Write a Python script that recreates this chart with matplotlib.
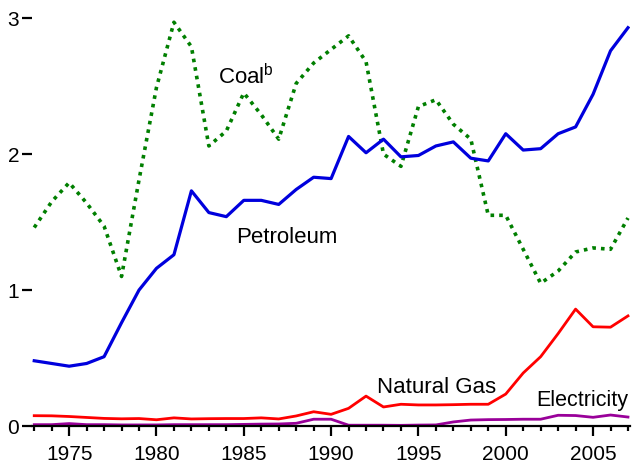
import matplotlib
matplotlib.use("Agg")
import matplotlib.pyplot as plt
from matplotlib.ticker import MultipleLocator

plt.rcParams["font.family"] = "Liberation Sans"
plt.rcParams["mathtext.fontset"] = "custom"
plt.rcParams["mathtext.rm"] = "Liberation Sans"

years = list(range(1973, 2008))

coal = [1.46, 1.65, 1.79, 1.64, 1.47, 1.10, 1.81, 2.49, 2.97, 2.79,
        2.06, 2.17, 2.45, 2.29, 2.11, 2.52, 2.67, 2.77, 2.87, 2.68,
        2.00, 1.91, 2.35, 2.40, 2.22, 2.11, 1.55, 1.55, 1.30, 1.05,
        1.14, 1.28, 1.31, 1.30, 1.53]

petroleum = [0.48, 0.46, 0.44, 0.46, 0.51, 0.76, 1.00, 1.16, 1.26, 1.73,
             1.57, 1.54, 1.66, 1.66, 1.63, 1.74, 1.83, 1.82, 2.13, 2.01,
             2.11, 1.98, 1.99, 2.06, 2.09, 1.97, 1.95, 2.15, 2.03, 2.04,
             2.15, 2.20, 2.44, 2.76, 2.93]

natural_gas = [0.076, 0.075, 0.07, 0.063, 0.056, 0.053, 0.055, 0.046, 0.06, 0.052,
               0.054, 0.055, 0.055, 0.06, 0.052, 0.074, 0.105, 0.086, 0.13, 0.22,
               0.14, 0.16, 0.155, 0.155, 0.157, 0.16, 0.16, 0.235, 0.39, 0.51,
               0.68, 0.86, 0.73, 0.727, 0.81]

electricity = [0.01, 0.01, 0.018, 0.01, 0.01, 0.008, 0.008, 0.008, 0.01, 0.01,
               0.01, 0.01, 0.012, 0.014, 0.015, 0.02, 0.05, 0.05, 0.006, 0.006,
               0.006, 0.005, 0.007, 0.008, 0.03, 0.044, 0.047, 0.048, 0.05, 0.05,
               0.079, 0.077, 0.064, 0.081, 0.066]

fig = plt.figure(figsize=(6.32, 4.66), dpi=100)
ax = fig.add_axes([0.0514, 0.0858, 0.945, 0.8927])

ax.plot(years, coal, color="#007f00", lw=2.6, linestyle=(0, (1, 1.4)))
ax.plot(years, petroleum, color="#0000dd", lw=2.3)
ax.plot(years, natural_gas, color="#ff0000", lw=2.0)
ax.plot(years, electricity, color="#990099", lw=2.0)

ax.text(1983.5, 2.57, "Coal$^{\\mathrm{b}}$", fontsize=16, va="center")
ax.text(1984.55, 1.39, "Petroleum", fontsize=16, va="center")
ax.text(1992.65, 0.28, "Natural Gas", fontsize=16, va="center")
ax.text(2001.75, 0.19, "Electricity", fontsize=15.5, va="center")

ax.set_xlim(1972.9, 2007.1)
ax.set_ylim(0, 3.06)

for s in ["top", "right", "left"]:
    ax.spines[s].set_visible(False)
ax.spines["bottom"].set_linewidth(1.6)
ax.spines["bottom"].set_bounds(1972.9, 2007.1)

ax.set_yticks([0, 1, 2, 3])
ax.set_xticks([1975, 1980, 1985, 1990, 1995, 2000, 2005])
ax.xaxis.set_minor_locator(MultipleLocator(1))
ax.tick_params(axis="x", which="major", length=7.5, width=1.6, labelsize=15, pad=6)
ax.tick_params(axis="x", which="minor", length=3.8, width=1.6)
ax.tick_params(axis="y", length=7.5, width=1.6, labelsize=15, pad=2)

fig.savefig("out.png", dpi=100)
